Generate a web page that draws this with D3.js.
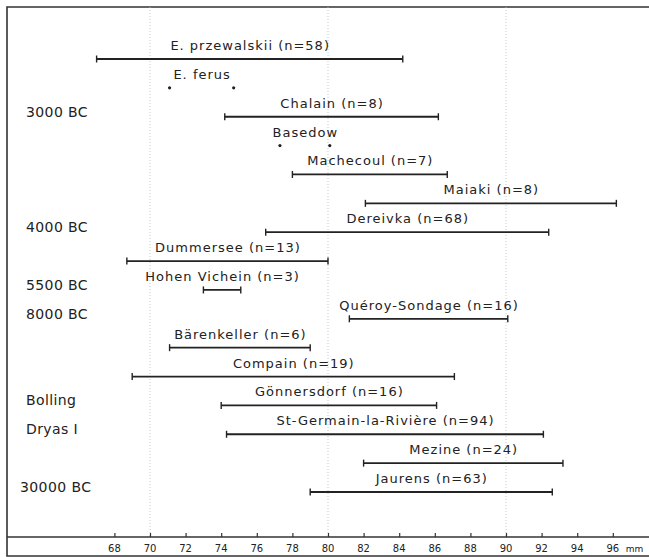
<!DOCTYPE html>
<html>
<head>
<meta charset="utf-8">
<script src="https://cdn.jsdelivr.net/npm/d3@7"></script>
<style>
  body { margin: 0; background: #fff; }
  text { font-family: "DejaVu Sans", sans-serif; fill: #222; }
</style>
</head>
<body>
<div id="chart"></div>
<script>
// sites, top to bottom, with min and max of the measurement (mm)
const sites = ["E. przewalskii (n=58)", "E. ferus", "Chalain (n=8)", "Basedow", "Machecoul (n=7)",
  "Maiaki (n=8)", "Dereivka (n=68)", "Dümmersee (n=13)", "Hohen Viecheln (n=3)", "Quéroy-Sondage (n=16)",
  "Bärenkeller (n=6)", "Compain (n=19)", "Gönnersdorf (n=16)", "St-Germain-la-Rivière (n=94)",
  "Mezine (n=24)", "Jaurens (n=63)"];
const siteLabels = ["E. przewalskii (n=58)", "E. ferus", "Chalain (n=8)", "Basedow", "Machecoul (n=7)",
  "Maiaki (n=8)", "Dereivka (n=68)", "Dummersee (n=13)", "Hohen Vichein (n=3)", "Quéroy-Sondage (n=16)",
  "Bärenkeller (n=6)", "Compain (n=19)", "Gönnersdorf (n=16)", "St-Germain-la-Rivière (n=94)",
  "Mezine (n=24)", "Jaurens (n=63)"];
const minVals = [67.0, 71.1, 74.2, 77.3, 78.0, 82.1, 76.5, 68.7, 73.0, 81.2, 71.1, 69.0, 74.0, 74.3, 82.0, 79.0];
const maxVals = [84.2, 74.7, 86.2, 80.1, 86.7, 96.2, 92.4, 80.0, 75.1, 90.1, 79.0, 87.1, 86.1, 92.1, 93.2, 92.6];
// single specimens are shown as two dots instead of a range
const pointOnly = ["E. ferus", "Basedow"];

// period labels on the left, each beside a site row
const periods = ["3000 BC", "4000 BC", "5500 BC", "8000 BC", "Bolling", "Dryas I", "30000 BC"];
const periodSites = ["Chalain (n=8)", "Dereivka (n=68)", "Hohen Viecheln (n=3)", "Quéroy-Sondage (n=16)",
  "Gönnersdorf (n=16)", "St-Germain-la-Rivière (n=94)", "Jaurens (n=63)"];

const tickVals = [68, 70, 72, 74, 76, 78, 80, 82, 84, 86, 88, 90, 92, 94, 96];
const gridVals = [70, 80, 90];

const width = 649, height = 557;
const frameLeft = 7, frameTop = 7, frameBottom = 556, axisY = 537;

const data = sites.map((s, i) => ({
  site: s, label: siteLabels[i], min: minVals[i], max: maxVals[i], dots: pointOnly.includes(s)
}));

const svg = d3.select("#chart").append("svg")
  .attr("width", width)
  .attr("height", height);

const x = d3.scaleLinear().domain([70, 90]).range([150, 506]);
const y = d3.scalePoint().domain(sites).range([59, 492]);

// frame
svg.append("path")
  .attr("d", `M${width},${frameTop}H${frameLeft}V${frameBottom}H${width}`)
  .attr("fill", "none")
  .attr("stroke", "#333")
  .attr("stroke-width", 1.6);

// dotted grid lines
svg.selectAll(".grid")
  .data(gridVals)
  .enter()
  .append("line")
  .attr("class", "grid")
  .attr("x1", d => x(d)).attr("x2", d => x(d))
  .attr("y1", frameTop).attr("y2", axisY)
  .attr("stroke", "#bbb")
  .attr("stroke-width", 0.8)
  .attr("stroke-dasharray", "1,2");

// x axis
const xaxis = d3.axisTop(x).tickValues(tickVals).tickSize(4).tickFormat("");
const gx = svg.append("g")
  .attr("transform", `translate(0, ${axisY})`)
  .call(xaxis);
gx.select(".domain").remove();
gx.selectAll(".tick line").attr("stroke", "#333").attr("stroke-width", 1.2);
svg.append("line")
  .attr("x1", frameLeft).attr("x2", width)
  .attr("y1", axisY).attr("y2", axisY)
  .attr("stroke", "#333")
  .attr("stroke-width", 1.6);

svg.selectAll(".tlab")
  .data(tickVals)
  .enter()
  .append("text")
  .attr("class", "tlab")
  .attr("x", d => x(d))
  .attr("y", axisY + 15)
  .attr("text-anchor", "middle")
  .style("font-size", "10px")
  .text(d => d);

svg.append("text")
  .attr("x", x(96) + 13)
  .attr("y", axisY + 15)
  .style("font-size", "9px")
  .text("mm");

// range bars
const rows = svg.selectAll(".row")
  .data(data)
  .enter()
  .append("g")
  .attr("class", "row")
  .attr("transform", d => `translate(0, ${y(d.site)})`);

const bars = rows.filter(d => !d.dots);
bars.append("line")
  .attr("x1", d => x(d.min)).attr("x2", d => x(d.max))
  .attr("stroke", "#222").attr("stroke-width", 1.8);
bars.append("line")
  .attr("x1", d => x(d.min)).attr("x2", d => x(d.min))
  .attr("y1", -3.5).attr("y2", 3.5)
  .attr("stroke", "#222").attr("stroke-width", 1.4);
bars.append("line")
  .attr("x1", d => x(d.max)).attr("x2", d => x(d.max))
  .attr("y1", -3.5).attr("y2", 3.5)
  .attr("stroke", "#222").attr("stroke-width", 1.4);

const dots = rows.filter(d => d.dots);
dots.selectAll("circle")
  .data(d => [d.min, d.max])
  .enter()
  .append("circle")
  .attr("cx", d => x(d))
  .attr("r", 1.6)
  .attr("fill", "#222");

rows.append("text")
  .attr("x", d => x((d.min + d.max) / 2) + 0.5)
  .attr("y", -9)
  .attr("text-anchor", "middle")
  .style("font-size", "13px")
  .style("letter-spacing", "1px")
  .text(d => d.label);

// period labels
svg.selectAll(".period")
  .data(periods)
  .enter()
  .append("text")
  .attr("class", "period")
  .attr("x", (d, i) => d === "30000 BC" ? 20 : 26)
  .attr("y", (d, i) => y(periodSites[i]))
  .style("font-size", "14px")
  .style("letter-spacing", "0.4px")
  .text(d => d);
</script>
</body>
</html>
